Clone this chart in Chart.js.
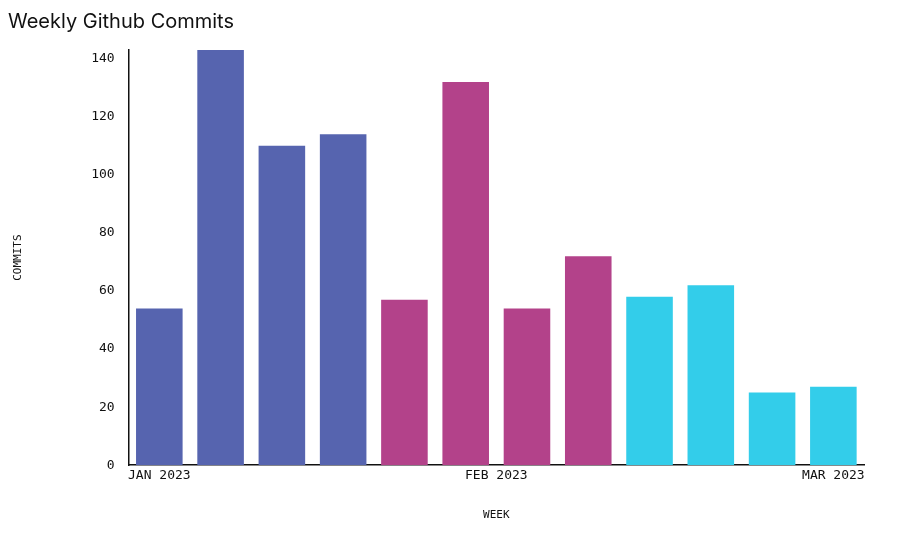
<!DOCTYPE html>
<html>
<head>
<meta charset="utf-8">
<script src="https://cdn.jsdelivr.net/npm/chart.js@4"></script>
<style>
  html, body { margin: 0; padding: 0; background: #fff; }
  #wrap { width: 904px; height: 534px; }
</style>
</head>
<body>
<div id="wrap"><canvas id="commitsChart"></canvas></div>
<script>
// weekly commit counts
const weeks = [0, 1, 2, 3, 4, 5, 6, 7, 8, 9, 10, 11];
const commits = [54, 143, 110, 114, 57, 132, 54, 72, 58, 62, 25, 27];
const barColors = ['#5664AF', '#5664AF', '#5664AF', '#5664AF',
                   '#B3428A', '#B3428A', '#B3428A', '#B3428A',
                   '#33CDEA', '#33CDEA', '#33CDEA', '#33CDEA'];
const monthTicks = [0, 5.5, 11];
const monthLabels = ['JAN 2023', 'FEB 2023', 'MAR 2023'];

const monoFont = 'DejaVu Sans Mono';

new Chart(document.getElementById('commitsChart'), {
    type: 'bar',
    data: {
        datasets: [{
            data: weeks.map((w, i) => ({ x: w, y: commits[i] })),
            backgroundColor: barColors,
            barPercentage: 0.95,
            categoryPercentage: 0.8
        }]
    },
    options: {
        responsive: true,
        maintainAspectRatio: false,
        animation: false,
        layout: { padding: { left: 8, right: 40, top: 4, bottom: 8 } },
        plugins: {
            legend: { display: false },
            tooltip: { enabled: false },
            title: {
                display: true,
                text: 'Weekly Github Commits',
                align: 'start',
                color: '#111',
                font: { family: 'Inter', size: 20, weight: 'normal' },
                padding: { left: 112, top: 6, bottom: 16 }
            }
        },
        scales: {
            x: {
                type: 'linear',
                min: -0.5,
                max: 11.5,
                offset: false,
                afterBuildTicks: axis => { axis.ticks = monthTicks.map(v => ({ value: v })); },
                ticks: {
                    color: '#111',
                    font: { family: monoFont, size: 13 },
                    maxRotation: 0,
                    callback: (v) => monthLabels[monthTicks.indexOf(v)]
                },
                grid: { display: false, drawTicks: false },
                border: { color: '#111', width: 1.5 },
                title: {
                    display: true,
                    text: 'WEEK',
                    color: '#111',
                    font: { family: monoFont, size: 11 },
                    padding: { top: 22 }
                }
            },
            y: {
                min: 0,
                max: 143,
                afterBuildTicks: axis => { axis.ticks = [0, 20, 40, 60, 80, 100, 120, 140].map(v => ({ value: v })); },
                ticks: {
                    color: '#111',
                    font: { family: monoFont, size: 13 },
                    padding: 6
                },
                grid: { display: false },
                border: { color: '#111', width: 1.5 },
                title: {
                    display: true,
                    text: 'COMMITS',
                    color: '#111',
                    font: { family: monoFont, size: 11 },
                    padding: { bottom: 60 }
                }
            }
        }
    }
});
</script>
</body>
</html>
